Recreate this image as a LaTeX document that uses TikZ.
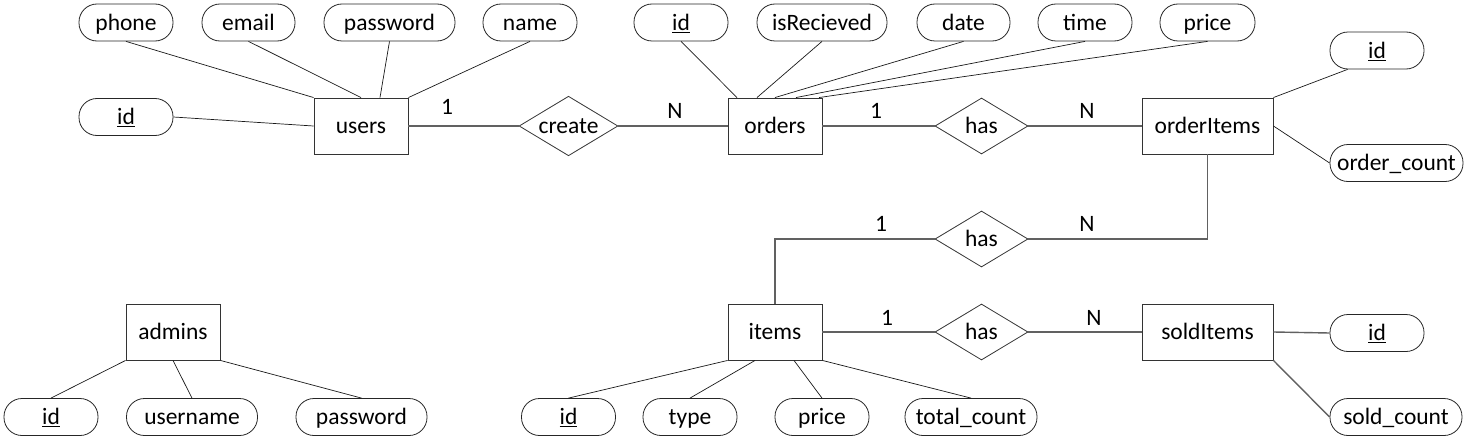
\documentclass[tikz,border=0pt]{standalone}
\usepackage{fontspec}
\setmainfont{Carlito}
\usetikzlibrary{shapes.geometric}
\begin{document}
\begin{tikzpicture}[x=1pt,y=-1pt,
  every node/.style={font=\fontsize{23.5}{28}\selectfont, text height=19.5pt, text depth=4pt, inner sep=0pt},
  ent/.style={draw=black!80, line width=0.9pt, minimum width=94pt, minimum height=56pt},
  attr/.style={draw=black!85, line width=0.8pt, rounded corners=18pt, minimum height=37pt, minimum width=94pt},
  rel/.style={diamond, draw=black!80, line width=0.8pt, aspect=1.66, minimum width=93pt, minimum height=56pt},
  alink/.style={draw=black!90, line width=0.7pt},
  rlink/.style={draw=black!62, line width=1.4pt},
  card/.style={}
]
\useasboundingbox (0,0) rectangle (1472,444);
% entities
\node[ent] (users) at (361,126) {users};
\node[ent] (orders) at (775,126) {orders};
\node[ent, minimum width=131pt] (oitems) at (1207.5,126) {orderItems};
\node[ent] (items) at (775,332) {items};
\node[ent, minimum width=131pt] (sold) at (1207.5,332) {soldItems};
\node[ent] (admins) at (173,332) {admins};
% relationships
\node[rel] (create) at (568.5,126) {create};
\node[rel] (has1) at (981.5,126) {has};
\node[rel] (has2) at (981.5,239) {has};
\node[rel] (has3) at (981.5,332) {has};
% user attributes
\node[attr] (uphone) at (126,22.5) {phone};
\node[attr, minimum width=93pt] (uemail) at (248.5,22.5) {email};
\node[attr, minimum width=131pt] (upass) at (389.5,22.5) {password};
\node[attr] (uname) at (530,22.5) {name};
\node[attr] (uid) at (126,117) {\underline{id}};
% order attributes
\node[attr] (oid) at (681,22.5) {\underline{id}};
\node[attr, minimum width=130pt] (orec) at (822,22.5) {isRecieved};
\node[attr, minimum width=93pt] (odate) at (963.5,22.5) {date};
\node[attr] (otime) at (1085,22.5) {time};
\node[attr, minimum width=95pt] (oprice) at (1207.5,22.5) {price};
% orderItems attributes
\node[attr] (oiid) at (1377,50.5) {\underline{id}};
\node[attr, minimum width=133pt] (oicount) at (1396.5,163) {order\_count};
% items attributes
\node[attr] (iid) at (568.5,417) {\underline{id}};
\node[attr] (itype) at (690,417) {type};
\node[attr] (iprice) at (822,417) {price};
\node[attr, minimum width=132pt] (itotal) at (971,417) {total\_count};
% soldItems attributes
\node[attr] (sid) at (1377,333) {\underline{id}};
\node[attr, minimum width=132pt] (scount) at (1396,417) {sold\_count};
% admins attributes
\node[attr] (aid) at (51,417) {\underline{id}};
\node[attr, minimum width=131pt] (auser) at (192,417) {username};
\node[attr, minimum width=131pt] (apass) at (361.5,417) {password};
% attribute links
\draw[alink] (uphone.south) -- (users.north west);
\draw[alink] (uemail.south) -- (users.north);
\draw[alink] (upass.south) -- ([xshift=19pt]users.north);
\draw[alink] (uname.south) -- (users.north east);
\draw[alink] (uid.east) -- (users.west);
\draw[alink] (oid.south) -- ([xshift=-38pt]orders.north);
\draw[alink] (orec.south) -- ([xshift=-18pt]orders.north);
\draw[alink] (odate.south) -- (orders.north);
\draw[alink] (otime.south) -- ([xshift=21pt]orders.north);
\draw[alink] (oprice.south) -- ([xshift=44pt]orders.north);
\draw[alink] (oitems.north east) -- ([xshift=18pt]oiid.south west);
\draw[alink] (oitems.east) -- (oicount.west);
\draw[alink] (items.south west) -- (iid.north);
\draw[alink] ([xshift=-20pt]items.south) -- (itype.north);
\draw[alink] ([xshift=19pt]items.south) -- (iprice.north);
\draw[alink] (items.south east) -- (itotal.north);
\draw[alink] (admins.south west) -- (aid.north);
\draw[alink] (admins.south) -- (auser.north);
\draw[alink] (admins.south east) -- (apass.north);
\draw[rlink] (sold.east) -- (sid.west);
\draw[rlink] (sold.south east) -- (scount.west);
% relationship links
\draw[rlink] (users.east) -- (create.west);
\draw[rlink] (create.east) -- (orders.west);
\draw[rlink] (orders.east) -- (has1.west);
\draw[rlink] (has1.east) -- (oitems.west);
\draw[rlink] (oitems.south) |- (has2.east);
\draw[rlink] (has2.west) -| (items.north);
\draw[rlink] (items.east) -- (has3.west);
\draw[rlink] (has3.east) -- (sold.west);
% cardinalities
\node[card] (c1) at (447,107) {1};
\node[card] (c2) at (675,111) {N};
\node[card] (c3) at (876,111) {1};
\node[card] (c4) at (1087,111) {N};
\node[card] (c5) at (881,224) {1};
\node[card] (c6) at (1087,224) {N};
\node[card] (c7) at (887,318) {1};
\node[card] (c8) at (1094,318) {N};
\end{tikzpicture}
\end{document}
